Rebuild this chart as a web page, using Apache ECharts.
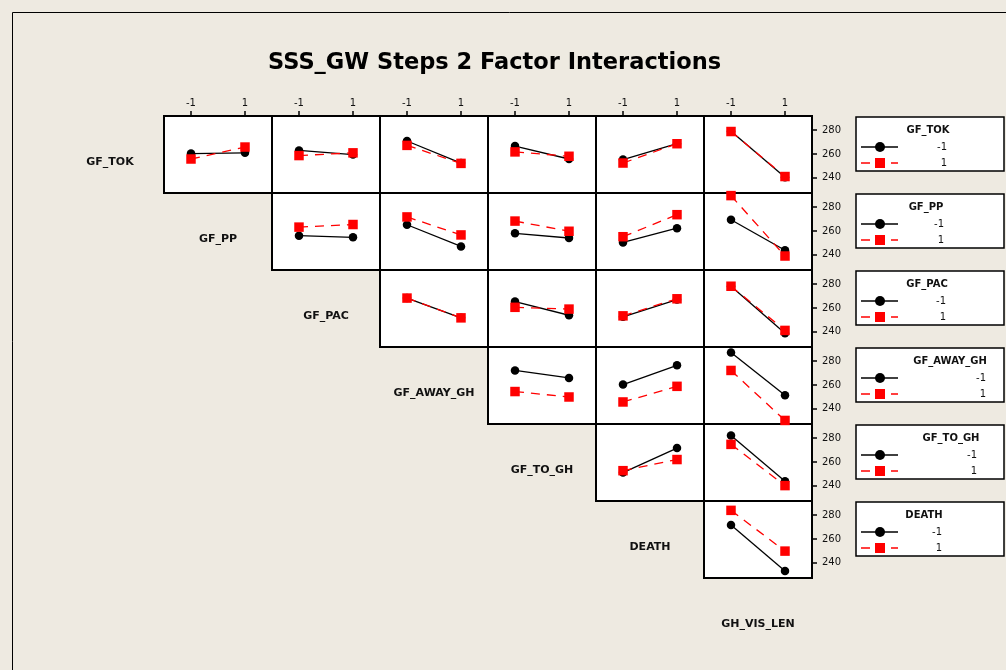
<!DOCTYPE html>
<html>
<head>
<meta charset="utf-8">
<title>SSS_GW Steps 2 Factor Interactions</title>
<script src="https://cdn.jsdelivr.net/npm/echarts@6/dist/echarts.min.js"></script>
<style>
  html, body { margin: 0; padding: 0; background: #eeeae1; }
  #chart { width: 1006px; height: 670px; }
</style>
</head>
<body>
<div id="chart"></div>
<script>
// factors in plot order (row factor = legend, column factor = x axis)
const factors = ["GF_TOK", "GF_PP", "GF_PAC", "GF_AWAY_GH", "GF_TO_GH", "DEATH", "GH_VIS_LEN"]
const levels = ["-1", "1"]
const yTicks = [240, 260, 280]

// mean response at column factor -1 / 1, row factor at -1 (black)
const gfTokLow = [[260.3, 260.9], [262.9, 259.4], [270.9, 252.3], [266.6, 255.7], [255.2, 268.6], [279.2, 240.3]]
const gfPpLow = [[256.0, 254.6], [265.2, 246.9], [258.0, 254.0], [250.3, 262.3], [269.4, 243.7]]
const gfPacLow = [[268.3, 251.6], [265.4, 253.8], [252.5, 267.0], [278.3, 238.6]]
const gfAwayLow = [[272.2, 265.9], [260.3, 276.5], [287.3, 251.3]]
const gfToLow = [[251.0, 271.7], [282.3, 243.6]]
const deathLow = [[271.7, 232.9]]

// row factor at 1 (red)
const gfTokHigh = [[255.7, 265.8], [258.6, 260.9], [267.2, 252.0], [261.7, 258.0], [252.3, 268.6], [278.9, 240.9]]
const gfPpHigh = [[263.2, 265.4], [271.8, 256.6], [268.3, 259.7], [255.1, 273.7], [289.8, 238.8]]
const gfPacHigh = [[268.3, 251.6], [260.5, 259.0], [253.3, 267.7], [278.3, 241.0]]
const gfAwayHigh = [[254.4, 249.8], [245.6, 258.8], [272.2, 230.0]]
const gfToHigh = [[252.6, 262.0], [274.8, 240.0]]
const deathHigh = [[284.1, 249.7]]

const lowRows = [gfTokLow, gfPpLow, gfPacLow, gfAwayLow, gfToLow, deathLow]
const highRows = [gfTokHigh, gfPpHigh, gfPacHigh, gfAwayHigh, gfToHigh, deathHigh]

// layout
const x0 = 164, y0 = 116, cellW = 108, cellH = 77
const txtFont = "DejaVu Sans"
const legendTitleX = [928, 926, 927, 950, 951, 924]
const legendLabelX = [947, 944, 946, 986, 977, 942]

let grid = [], xAxis = [], yAxis = [], series = [], graphic = []

let k = 0
for (let r = 0; r < 6; r++) {
  for (let c = r; c < 6; c++) {
    grid.push({
      left: x0 + c * cellW, top: y0 + r * cellH, width: cellW, height: cellH,
      show: true, backgroundColor: "#fff", borderColor: "#000", borderWidth: 2
    })
    xAxis.push({
      gridIndex: k, type: "category", data: levels, boundaryGap: true, position: "top",
      axisLine: { show: false },
      axisTick: { show: r === 0, alignWithLabel: true, length: 5, lineStyle: { color: "#000", width: 1.5 } },
      axisLabel: { show: r === 0, margin: 8, fontSize: 10, fontFamily: txtFont, color: "#111" },
      splitLine: { show: false }
    })
    yAxis.push({
      gridIndex: k, type: "value", min: 227, max: 292, position: "right", show: c === 5,
      axisLine: { show: false },
      axisTick: { show: true, length: 5, customValues: yTicks, lineStyle: { color: "#000", width: 1.5 } },
      axisLabel: { customValues: yTicks, margin: 10, fontSize: 10, fontFamily: txtFont, color: "#111" },
      splitLine: { show: false }
    })
    series.push({
      type: "line", xAxisIndex: k, yAxisIndex: k, data: lowRows[r][c - r],
      symbol: "circle", symbolSize: 8.5, color: "#000",
      lineStyle: { color: "#000", width: 1.3 }
    })
    series.push({
      type: "line", xAxisIndex: k, yAxisIndex: k, data: highRows[r][c - r],
      symbol: "rect", symbolSize: 9.5, color: "#f00",
      lineStyle: { color: "#f00", width: 1.3, type: [9, 7] }
    })
    k++
  }
}

// factor names on the diagonal
factors.forEach(function (name, i) {
  graphic.push({
    type: "text", x: x0 + i * cellW - 54, y: y0 + i * cellH + cellH / 2 + 8,
    style: { text: name, fontSize: 11, fontWeight: "bold", fontFamily: txtFont, fill: "#111",
      align: "center", verticalAlign: "middle" }
  })
})

// one legend box per row factor
for (let i = 0; i < 6; i++) {
  let top = y0 + i * cellH + 1
  graphic.push({
    type: "rect", shape: { x: 856, y: top, width: 148, height: 54 },
    style: { fill: "#fff", stroke: "#000", lineWidth: 1.5 }
  })
  graphic.push({
    type: "text", x: legendTitleX[i], y: top + 13,
    style: { text: factors[i], fontSize: 10, fontWeight: "bold", fontFamily: txtFont, fill: "#111",
      align: "center", verticalAlign: "middle" }
  })
  graphic.push({
    type: "line", shape: { x1: 861, y1: top + 30, x2: 898, y2: top + 30 },
    style: { stroke: "#000", lineWidth: 1.5 }
  })
  graphic.push({
    type: "circle", shape: { cx: 880, cy: top + 30, r: 5 }, style: { fill: "#000" }
  })
  graphic.push({
    type: "line", shape: { x1: 861, y1: top + 46, x2: 898, y2: top + 46 },
    style: { stroke: "#f00", lineWidth: 1.5, lineDash: [9, 6] }
  })
  graphic.push({
    type: "rect", shape: { x: 875, y: top + 41, width: 10, height: 10 }, style: { fill: "#f00" }
  })
  levels.forEach(function (lv, j) {
    graphic.push({
      type: "text", x: legendLabelX[i], y: top + 30 + j * 16,
      style: { text: lv, fontSize: 10, fontFamily: txtFont, fill: "#111",
        align: "right", verticalAlign: "middle" }
    })
  })
}

// outer frame
graphic.push({
  type: "rect", shape: { x: 12.5, y: 12.5, width: 1100, height: 1000 },
  style: { fill: null, stroke: "#000", lineWidth: 1 }, z: -1
})

let option = {
  animation: false,
  backgroundColor: "#eeeae1",
  title: {
    text: "SSS_GW Steps 2 Factor Interactions",
    left: 263, top: 47,
    textStyle: { fontSize: 22.5, fontWeight: "bold", fontFamily: txtFont, color: "#000" }
  },
  grid, xAxis, yAxis, series, graphic
}

const myChart = echarts.init(document.getElementById("chart"))
window.addEventListener("resize", function () {
  myChart.resize()
})
myChart.setOption(option)
</script>
</body>
</html>
